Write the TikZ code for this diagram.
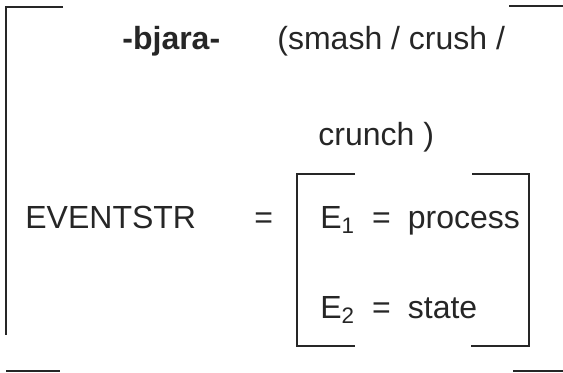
\documentclass[tikz,border=0pt]{standalone}
\usepackage{fontspec}
\setmainfont{Liberation Sans}
\usepackage{tikz}
\usetikzlibrary{positioning,calc}
\definecolor{ink}{RGB}{38,38,38}
\tikzset{
  txt/.style={anchor=base west,inner sep=0pt,text=ink,font=\fontsize{16}{19}\selectfont},
  brk/.style={draw=ink,line width=0.9pt},
}

\begin{document}
\begin{tikzpicture}[x=0.5pt,y=-0.5pt]
  \useasboundingbox (0,0) rectangle (563,372);
  % text
  \node[txt,font=\fontsize{16}{19}\selectfont\bfseries] (verb) at (122,49) {-bjara-};
  \node[txt] (gloss1) at (277,49) {(smash / crush /};
  \node[txt] (gloss2) at (318,145) {crunch )};
  \node[txt] (evs) at (25,228) {EVENTSTR};
  \node[txt] (eq) at (254,228) {=};
  \node[txt] (e1) at (320,228) {E\textsubscript{1}\hspace{8.5pt}=\hspace{8.5pt}process};
  \node[txt] (e2) at (320,318) {E\textsubscript{2}\hspace{8.5pt}=\hspace{8.5pt}state};
  % outer bracket
  \coordinate (otl) at (6,7);
  \coordinate (otr) at (563,6);
  \draw[brk] (otl) ++(57,0) -- (otl) -- ++(0,328);
  \draw[brk] (otr) -- ++(-54,0);
  \draw[brk] (6,371) -- (60,371);
  \draw[brk] (513,371) -- (563,371);
  % inner box with gaps
  \coordinate (itl) at (297,174);
  \coordinate (ibr) at (529,346);
  \draw[brk] ($(itl)+(58,0)$) -- (itl) -- (itl |- ibr) -- ++(58,0);
  \draw[brk] ($(ibr|-itl)+(-57,0)$) -- (ibr|-itl) -- (ibr) -- ++(-58,0);
\end{tikzpicture}
\end{document}
